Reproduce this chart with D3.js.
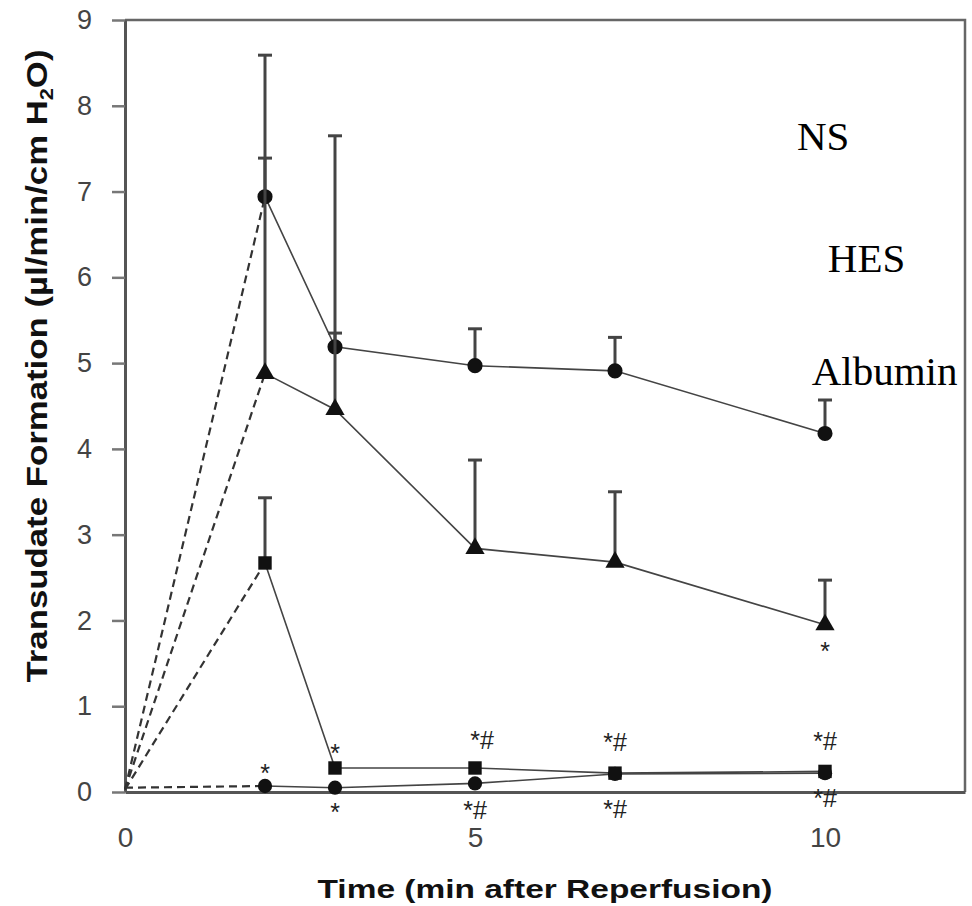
<!DOCTYPE html>
<html>
<head>
<meta charset="utf-8">
<script src="https://cdn.jsdelivr.net/npm/d3@7"></script>
<style>
  html, body { margin: 0; padding: 0; background: #fff; }
  svg { display: block; }
</style>
</head>
<body>
<svg id="chart" width="972" height="906"></svg>
<script>
// Time points (min after reperfusion); the first segment is drawn dashed.
const times = [0, 2, 3, 5, 7, 10];

// Mean values.
const nsValues      = [0.03, 6.94, 5.19, 4.97, 4.91, 4.18];
const hesValues     = [0.03, 4.88, 4.46, 2.84, 2.68, 1.95];
const albuminValues = [0.03, 2.67, 0.28, 0.28, 0.22, 0.24];
const controlValues = [0.05, 0.07, 0.05, 0.10, 0.21, 0.22];

// Upper end of the error bars (null = none drawn).
const nsUpper      = [null, 8.59, 7.65, 5.40, 5.30, 4.57];
const hesUpper     = [null, 7.39, 5.35, 3.87, 3.50, 2.47];
const albuminUpper = [null, 3.43, null, null, null, null];

// Legend labels sit loose in the plot, given in data units (time, value).
const legendLabels = ['NS', 'HES', 'Albumin'];
const legendTimes  = [9.6, 10.04, 9.81];
const legendValues = [7.48, 6.06, 4.74];

// Significance marks: time, value where the mark sits, text.
const markTimes  = [2, 3, 3, 5.1, 5, 7, 7, 10, 10, 10];
const markValues = [0.28, 0.51, -0.18, 0.6, -0.21, 0.58, -0.2, 0.59, -0.07, 1.70];
const markLabels = ['*', '*', '*', '*#', '*#', '*#', '*#', '*#', '*#', '*'];

const yTicks = [0, 1, 2, 3, 4, 5, 6, 7, 8, 9];
const xTicks = [0, 5, 10];

const margin = {top: 20, right: 7, bottom: 114, left: 125};
const width = 972, height = 906;

const svg = d3.select('#chart');

const x = d3.scaleLinear().domain([0, 12]).range([margin.left, width - margin.right]);
const y = d3.scaleLinear().domain([0, 9]).range([height - margin.bottom, margin.top]);

// Frame: top and right borders.
svg.append('path')
    .attr('d', `M${x(0)},${y(9)}H${x(12)}V${y(0)}`)
    .attr('fill', 'none')
    .attr('stroke', '#666')
    .attr('stroke-width', 2.5);

// Y axis with outward ticks.
const yAxis = svg.append('g')
    .attr('transform', `translate(${x(0)},0)`)
    .call(d3.axisLeft(y).tickValues(yTicks).tickSize(13).tickPadding(20)
        .tickSizeOuter(0).tickFormat(d3.format('d')));
yAxis.select('.domain').attr('stroke', '#555').attr('stroke-width', 3);
yAxis.selectAll('.tick line').attr('stroke', '#777').attr('stroke-width', 2.5);
yAxis.selectAll('.tick text')
    .attr('font-family', 'Arial, "Liberation Sans", sans-serif')
    .attr('font-size', 27)
    .attr('fill', '#444');

// X axis.
const xAxis = svg.append('g')
    .attr('transform', `translate(0,${y(0)})`)
    .call(d3.axisBottom(x).tickValues(xTicks).tickSize(0).tickPadding(35)
        .tickSizeOuter(0));
xAxis.select('.domain').attr('stroke', '#555').attr('stroke-width', 3);
xAxis.selectAll('.tick text')
    .attr('font-family', 'Arial, "Liberation Sans", sans-serif')
    .attr('font-size', 28)
    .attr('fill', '#444');

// Axis titles.
svg.append('text')
    .attr('x', 545)
    .attr('y', 898)
    .attr('text-anchor', 'middle')
    .attr('font-family', 'Arial, "Liberation Sans", sans-serif')
    .attr('font-weight', 'bold')
    .attr('font-size', 25)
    .attr('textLength', 455)
    .attr('lengthAdjust', 'spacingAndGlyphs')
    .attr('fill', '#111')
    .text('Time (min after Reperfusion)');

const yTitle = svg.append('text')
    .attr('transform', 'translate(47,366) rotate(-90)')
    .attr('text-anchor', 'middle')
    .attr('font-family', 'Arial, "Liberation Sans", sans-serif')
    .attr('font-weight', 'bold')
    .attr('font-size', 29)
    .attr('textLength', 633)
    .attr('lengthAdjust', 'spacingAndGlyphs')
    .attr('fill', '#111');
yTitle.append('tspan').text('Transudate Formation (µl/min/cm H');
yTitle.append('tspan').attr('font-size', 18).attr('dy', 6).text('2');
yTitle.append('tspan').attr('dy', -6).text('O)');

const series = [
  {values: nsValues, upper: nsUpper, shape: d3.symbolCircle, size: 180},
  {values: hesValues, upper: hesUpper, shape: d3.symbolTriangle, size: 160},
  {values: albuminValues, upper: albuminUpper, shape: d3.symbolSquare, size: 180},
  {values: controlValues, upper: null, shape: d3.symbolCircle, size: 160},
];

const line = d3.line()
    .x(d => x(d[0]))
    .y(d => y(d[1]));

series.forEach(s => {
  const pts = times.map((t, i) => [t, s.values[i]]);

  // Error bars first so markers sit on top.
  if (s.upper) {
    times.forEach((t, i) => {
      const u = s.upper[i];
      if (u == null) return;
      svg.append('line')
          .attr('x1', x(t)).attr('x2', x(t))
          .attr('y1', y(s.values[i])).attr('y2', y(u))
          .attr('stroke', '#444').attr('stroke-width', 3);
      svg.append('line')
          .attr('x1', x(t) - 7).attr('x2', x(t) + 7)
          .attr('y1', y(u)).attr('y2', y(u))
          .attr('stroke', '#444').attr('stroke-width', 3);
    });
  }

  svg.append('path')
      .attr('d', line(pts.slice(0, 2)))
      .attr('fill', 'none')
      .attr('stroke', '#333')
      .attr('stroke-width', 2.2)
      .attr('stroke-dasharray', '8,5');

  svg.append('path')
      .attr('d', line(pts.slice(1)))
      .attr('fill', 'none')
      .attr('stroke', '#444')
      .attr('stroke-width', 1.6);

  svg.selectAll(null)
      .data(pts.slice(1))
      .join('path')
      .attr('transform', d => `translate(${x(d[0])},${y(d[1])})`)
      .attr('d', d3.symbol().type(s.shape).size(s.size))
      .attr('fill', '#111');
});

// Significance marks.
svg.selectAll('.mark')
    .data(markTimes.map((t, i) => [t, markValues[i], markLabels[i]]))
    .join('text')
    .attr('class', 'mark')
    .attr('x', d => x(d[0]))
    .attr('y', d => y(d[1]))
    .attr('dy', d => d[2] === '*' ? '0.55em' : '0.35em')
    .attr('text-anchor', 'middle')
    .attr('font-family', 'Arial, "Liberation Sans", sans-serif')
    .attr('font-size', 25)
    .attr('fill', '#222')
    .text(d => d[2]);

// Legend labels (text only, as in the figure).
svg.selectAll('.legend')
    .data(legendLabels.map((l, i) => [l, legendTimes[i], legendValues[i]]))
    .join('text')
    .attr('class', 'legend')
    .attr('x', d => x(d[1]))
    .attr('y', d => y(d[2]))
    .attr('font-family', '"Times New Roman", "Liberation Serif", serif')
    .attr('font-size', 41)
    .attr('fill', '#000')
    .text(d => d[0]);
</script>
</body>
</html>
